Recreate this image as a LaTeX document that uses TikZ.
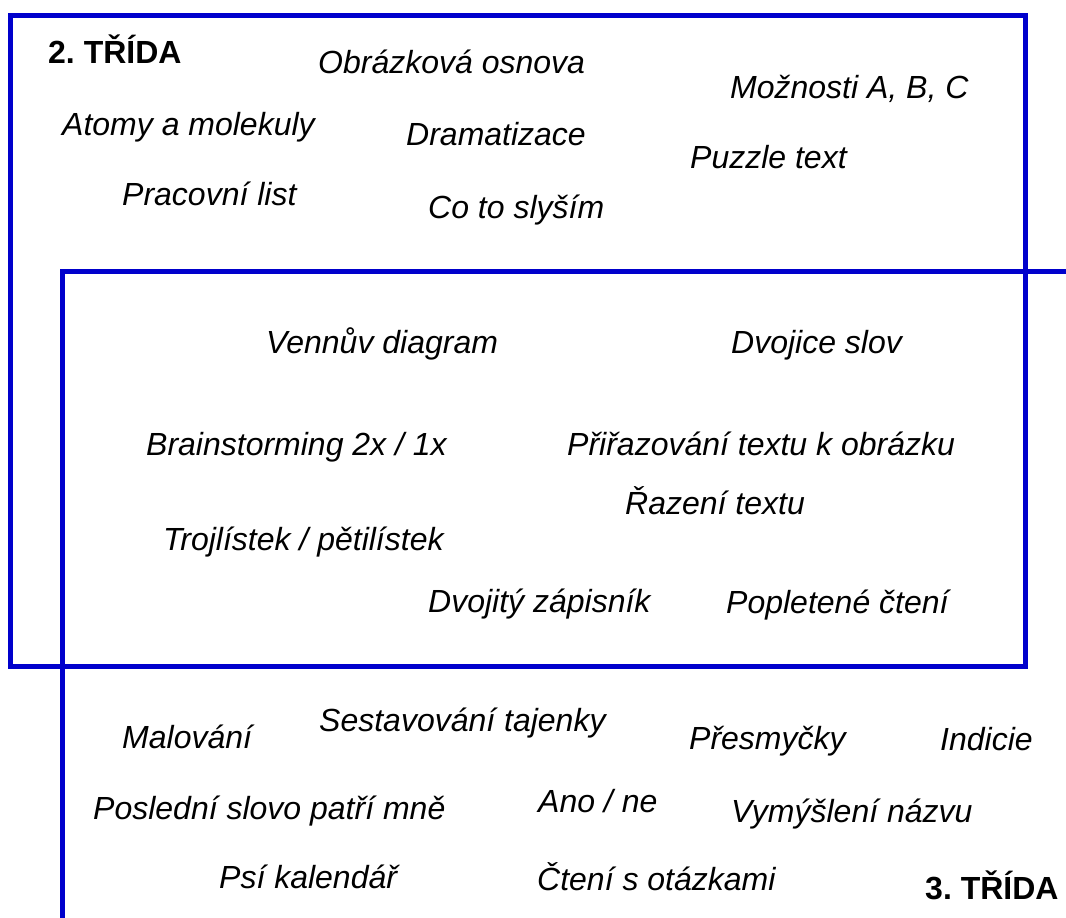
\documentclass[tikz,border=0pt]{standalone}
\usepackage{fontspec}
\setmainfont{Liberation Sans}
\definecolor{boxblue}{RGB}{0,0,204}
\frenchspacing
\begin{document}
\begin{tikzpicture}[x=1pt,y=-1pt,
  frame/.style={draw=boxblue,line width=5pt,line join=miter},
  item/.style={anchor=base west,inner sep=0pt,font=\fontsize{32}{38}\selectfont\itshape},
  title/.style={anchor=base west,inner sep=0pt,font=\fontsize{32}{38}\selectfont\bfseries}]
\useasboundingbox (0,0) rectangle (1066,918);
\draw[frame] (10.5,15.5) rectangle (1025.5,666);
\draw[frame] (1066,271.5) -- (62.5,271.5) -- (62.5,918);
\node[title] (t2) at (48,63) {2. TŘÍDA};
\node[item] (a1) at (318,73) {Obrázková osnova};
\node[item] (a2) at (730,98) {Možnosti A, B, C};
\node[item] (a3) at (62,135) {Atomy a molekuly};
\node[item] (a4) at (406,145) {Dramatizace};
\node[item] (a5) at (690,168) {Puzzle text};
\node[item] (a6) at (122,205) {Pracovní list};
\node[item] (a7) at (428,218) {Co to slyším};
\node[item] (b1) at (266,353) {Vennův diagram};
\node[item] (b2) at (731,353) {Dvojice slov};
\node[item] (b3) at (146,455) {Brainstorming 2x / 1x};
\node[item] (b4) at (567,455) {Přiřazování textu k obrázku};
\node[item] (b5) at (625,514) {Řazení textu};
\node[item] (b6) at (163,550) {Trojlístek / pětilístek};
\node[item] (b7) at (428,612) {Dvojitý zápisník};
\node[item] (b8) at (726,613) {Popletené čtení};
\node[item] (c1) at (122,748) {Malování};
\node[item] (c2) at (319,731) {Sestavování tajenky};
\node[item] (c3) at (689,749) {Přesmyčky};
\node[item] (c4) at (940,750) {Indicie};
\node[item] (c5) at (93,819) {Poslední slovo patří mně};
\node[item] (c6) at (538,812) {Ano / ne};
\node[item] (c7) at (731,822) {Vymýšlení názvu};
\node[item] (c8) at (219,888) {Psí kalendář};
\node[item] (c9) at (537,890) {Čtení s otázkami};
\node[title] (t3) at (925,899) {3. TŘÍDA};
\end{tikzpicture}
\end{document}
